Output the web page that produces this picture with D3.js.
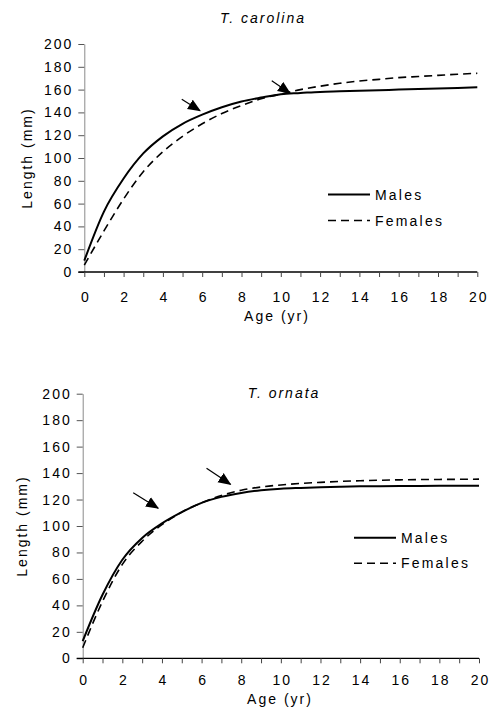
<!DOCTYPE html>
<html>
<head>
<meta charset="utf-8">
<script src="https://cdn.jsdelivr.net/npm/d3@7"></script>
<style>
  body { margin: 0; background: #fff; }
  text { font-family: "Liberation Sans", Arial, sans-serif; fill: #000; }
</style>
</head>
<body>
<script>
// ages 0..20 yr
var ages = [0,1,2,3,4,5,6,7,8,9,10,11,12,13,14,15,16,17,18,19,20];
var yTicks = [0,20,40,60,80,100,120,140,160,180,200];
var xLabels = [0,2,4,6,8,10,12,14,16,18,20];
var seriesNames = ["Males", "Females"];

// T. carolina
var carolinaMales   = [10, 53, 82, 104, 119, 130, 138, 144.5, 149.5, 153, 156, 157, 158, 158.5, 159, 159.5, 160, 160.5, 161, 161.5, 162];
var carolinaFemales = [6, 36, 64, 88, 105.5, 119, 130, 139, 146, 152, 156, 160, 163, 165.5, 167.5, 169, 170.5, 171.5, 172.5, 173.5, 174.3];
var carolinaArrows  = [[4.96, 151.5, 5.89, 141.5], [9.54, 167.8, 10.47, 156.8]];

// T. ornata
var ornataMales   = [13, 48, 74.5, 91, 102, 110.5, 117.5, 122, 125, 127, 128.2, 128.8, 129.3, 129.7, 130, 130.1, 130.2, 130.3, 130.4, 130.5, 130.5];
var ornataFemales = [8, 43, 71, 88.5, 101, 110.5, 117.5, 123, 127, 129.5, 131, 132.2, 133, 133.7, 134.2, 134.6, 134.9, 135.1, 135.2, 135.3, 135.4];
var ornataArrows  = [[2.55, 125.2, 3.81, 113.4], [6.25, 143.6, 7.46, 131.5]];

var svg = d3.select("body").append("svg")
    .attr("width", 492)
    .attr("height", 708);

svg.append("defs").append("marker")
    .attr("id", "head")
    .attr("markerUnits", "userSpaceOnUse")
    .attr("viewBox", "0 -6 13 12")
    .attr("refX", 12)
    .attr("refY", 0)
    .attr("markerWidth", 13)
    .attr("markerHeight", 12)
    .attr("orient", "auto")
  .append("path")
    .attr("d", "M0,-5.5L13,0L0,5.5Z")
    .attr("fill", "#000");

var drawPanel = function(p) {
    var x = d3.scaleLinear().domain([0, 20]).range([p.left, p.right]);
    var y = d3.scaleLinear().domain([0, 200]).range([p.bottom, p.top]);
    var g = svg.append("g");

    // y axis (thin grey)
    var yAxis = g.append("g")
        .attr("transform", "translate(" + p.left + ",0)")
        .call(d3.axisLeft(y).tickValues(yTicks).tickSize(6).tickSizeOuter(0).tickPadding(7));
    yAxis.select(".domain").attr("stroke", "#8a8a8a").attr("stroke-width", 1);
    yAxis.selectAll(".tick line").attr("stroke", "#555");
    yAxis.selectAll(".tick text")
        .style("font-size", "14px")
        .style("letter-spacing", "2px")
        .attr("dx", "2px")
        .attr("font-family", null);

    // x axis
    var xAxis = g.append("g")
        .attr("transform", "translate(0," + p.bottom + ")")
        .call(d3.axisBottom(x).tickValues(ages).tickSize(5).tickSizeOuter(0).tickPadding(p.xPad)
            .tickFormat(function(d) { return xLabels.indexOf(d) >= 0 ? d : ""; }));
    xAxis.select(".domain").attr("stroke", "#000").attr("stroke-width", 1.3)
        .attr("d", "M" + (p.left - 6) + ",0H" + p.right);
    xAxis.selectAll(".tick line").attr("stroke", "#444");
    xAxis.selectAll(".tick text")
        .style("font-size", "14px")
        .style("letter-spacing", "2px")
        .attr("dx", "1px")
        .attr("font-family", null);

    var line = function(vals) {
        return d3.line()
            .x(function(d, i) { return x(ages[i]); })
            .y(function(d) { return y(d); })
            .curve(d3.curveMonotoneX)(vals);
    };

    g.append("path").attr("d", line(p.males))
        .attr("fill", "none").attr("stroke", "#000").attr("stroke-width", 2);
    g.append("path").attr("d", line(p.females))
        .attr("fill", "none").attr("stroke", "#000").attr("stroke-width", 1.6)
        .attr("stroke-dasharray", "8,5");

    // arrows
    p.arrows.forEach(function(a) {
        g.append("line")
            .attr("x1", x(a[0])).attr("y1", y(a[1]))
            .attr("x2", x(a[2])).attr("y2", y(a[3]))
            .attr("stroke", "#000").attr("stroke-width", 1.2)
            .attr("marker-end", "url(#head)");
    });

    // title
    g.append("text")
        .attr("x", p.titleX).attr("y", p.titleY)
        .attr("text-anchor", "middle")
        .style("font-size", "14px").style("font-style", "italic").style("letter-spacing", "2px")
        .text(p.title);

    // axis labels
    g.append("text")
        .attr("x", p.xLabelX).attr("y", p.xLabelY)
        .attr("text-anchor", "middle")
        .style("font-size", "14px").style("letter-spacing", "2px")
        .text("Age (yr)");
    g.append("text")
        .attr("transform", "translate(" + p.yLabelX + "," + ((p.top + p.bottom) / 2) + ") rotate(-90)")
        .attr("text-anchor", "middle")
        .style("font-size", "14px").style("letter-spacing", "2px")
        .text("Length (mm)");

    // legend
    seriesNames.forEach(function(name, i) {
        var ly = p.legendY + i * p.legendGap;
        g.append("line")
            .attr("x1", p.legendX).attr("x2", p.legendX + 42)
            .attr("y1", ly).attr("y2", ly)
            .attr("stroke", "#000").attr("stroke-width", i == 0 ? 2 : 1.6)
            .attr("stroke-dasharray", i == 0 ? null : "8,5");
        g.append("text")
            .attr("x", p.legendX + 47).attr("y", ly + 5)
            .style("font-size", "14px").style("letter-spacing", "2.2px")
            .text(name);
    });
};

drawPanel({
    left: 84.3, right: 477.3, top: 44, bottom: 272,
    males: carolinaMales, females: carolinaFemales, arrows: carolinaArrows,
    title: "T. carolina", titleX: 263, titleY: 23, xPad: 15,
    xLabelX: 277, xLabelY: 321, yLabelX: 32,
    legendX: 328, legendY: 194.5, legendGap: 26
});

drawPanel({
    left: 82.7, right: 479, top: 393.7, bottom: 658.3,
    males: ornataMales, females: ornataFemales, arrows: ornataArrows,
    title: "T. ornata", titleX: 284, titleY: 398, xPad: 12,
    xLabelX: 280, xLabelY: 704, yLabelX: 27,
    legendX: 354, legendY: 537.7, legendGap: 25.5
});
</script>
</body>
</html>
